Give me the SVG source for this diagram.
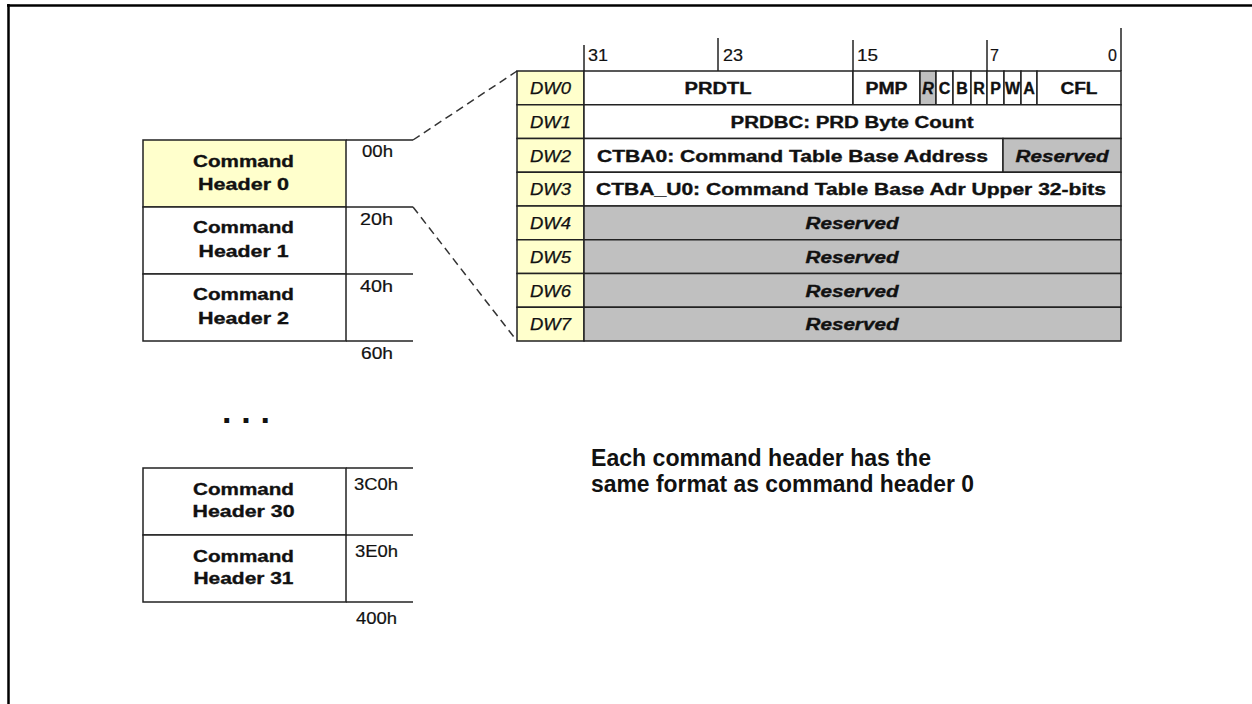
<svg xmlns="http://www.w3.org/2000/svg" width="1252" height="704" viewBox="0 0 1252 704">
<style>
.t{font-family:"Liberation Sans",Arial,sans-serif;fill:#111}
.hdr{font-weight:bold;font-size:17px;text-anchor:middle;stroke:#111;stroke-width:0.35}
.off{font-size:16px;text-anchor:middle;stroke:#111;stroke-width:0.2}
.bit{font-size:16px;stroke:#111;stroke-width:0.2}
.dw{font-style:italic;font-size:16px;text-anchor:middle;stroke:#111;stroke-width:0.25}
.fld{font-weight:bold;font-size:16px;text-anchor:middle;stroke:#111;stroke-width:0.35}
.rsv{font-weight:bold;font-style:italic;font-size:16px;text-anchor:middle;stroke:#111;stroke-width:0.35}
.note{font-weight:bold;font-size:23px}
.box{stroke:#222;stroke-width:1.5}
.yel{fill:#FFFFCC}
.wht{fill:#FFFFFF}
.gry{fill:#C0C0C0}
.ln{stroke:#222;stroke-width:1.5;fill:none}
.dash{stroke:#333;stroke-width:1.5;fill:none;stroke-dasharray:8 5}
</style>
<rect width="1252" height="704" fill="#FFFFFF"/>
<g id="frame">
<line x1="7" y1="5.5" x2="1252" y2="5.5" stroke="#000" stroke-width="2.5"/>
<line x1="8.5" y1="4" x2="8.5" y2="704" stroke="#000" stroke-width="2.5"/>
</g>

<g id="header0">
<rect class="box yel" x="143" y="140" width="203" height="67"/>
<text class="t hdr" x="243.5" y="167" textLength="101" lengthAdjust="spacingAndGlyphs">Command</text>
<text class="t hdr" x="243.5" y="190" textLength="91" lengthAdjust="spacingAndGlyphs">Header 0</text>
</g>
<g id="header1">
<rect class="box wht" x="143" y="207" width="203" height="67"/>
<text class="t hdr" x="243.5" y="233" textLength="101" lengthAdjust="spacingAndGlyphs">Command</text>
<text class="t hdr" x="243.5" y="257" textLength="90" lengthAdjust="spacingAndGlyphs">Header 1</text>
</g>
<g id="header2">
<rect class="box wht" x="143" y="274" width="203" height="67"/>
<text class="t hdr" x="243.5" y="300" textLength="101" lengthAdjust="spacingAndGlyphs">Command</text>
<text class="t hdr" x="243.5" y="324" textLength="91" lengthAdjust="spacingAndGlyphs">Header 2</text>
</g>
<g id="ellipsis">
<text class="t" x="222" y="423" textLength="48" lengthAdjust="spacing" style="font-weight:bold;font-size:34px">...</text>
</g>
<g id="header30">
<rect class="box wht" x="143" y="468" width="203" height="67"/>
<text class="t hdr" x="243.5" y="495" textLength="101" lengthAdjust="spacingAndGlyphs">Command</text>
<text class="t hdr" x="243.5" y="517" textLength="102" lengthAdjust="spacingAndGlyphs">Header 30</text>
</g>
<g id="header31">
<rect class="box wht" x="143" y="535" width="203" height="67"/>
<text class="t hdr" x="243.5" y="562" textLength="101" lengthAdjust="spacingAndGlyphs">Command</text>
<text class="t hdr" x="243.5" y="584" textLength="100" lengthAdjust="spacingAndGlyphs">Header 31</text>
</g>

<g id="offsets">
<text class="t off" x="377.5" y="157" textLength="31" lengthAdjust="spacingAndGlyphs">00h</text>
<text class="t off" x="376.5" y="225" textLength="33" lengthAdjust="spacingAndGlyphs">20h</text>
<text class="t off" x="376.5" y="292" textLength="33" lengthAdjust="spacingAndGlyphs">40h</text>
<text class="t off" x="377" y="359" textLength="32" lengthAdjust="spacingAndGlyphs">60h</text>
<text class="t off" x="376" y="490" textLength="44" lengthAdjust="spacingAndGlyphs">3C0h</text>
<text class="t off" x="376.5" y="557" textLength="43" lengthAdjust="spacingAndGlyphs">3E0h</text>
<text class="t off" x="376.5" y="624" textLength="41" lengthAdjust="spacingAndGlyphs">400h</text>
</g>

<g id="connectors">
<line class="ln" x1="346" y1="140" x2="413" y2="140"/>
<line class="ln" x1="346" y1="207" x2="413" y2="207"/>
<line class="ln" x1="346" y1="274" x2="413" y2="274"/>
<line class="ln" x1="346" y1="341" x2="413" y2="341"/>
<line class="ln" x1="346" y1="468" x2="413" y2="468"/>
<line class="ln" x1="346" y1="535" x2="413" y2="535"/>
<line class="ln" x1="346" y1="602" x2="413" y2="602"/>
<line class="dash" x1="413" y1="140" x2="517" y2="71"/>
<line class="dash" x1="413" y1="207" x2="517" y2="341"/>
</g>

<g id="bit-scale">
<line class="ln" x1="584" y1="45" x2="584" y2="71"/>
<line class="ln" x1="718" y1="38" x2="718" y2="71"/>
<line class="ln" x1="853" y1="40" x2="853" y2="71"/>
<line class="ln" x1="987" y1="40" x2="987" y2="71"/>
<line class="ln" x1="1121" y1="28" x2="1121" y2="71"/>
<text class="t bit" x="588" y="61" textLength="20" lengthAdjust="spacingAndGlyphs">31</text>
<text class="t bit" x="723" y="61" textLength="20" lengthAdjust="spacingAndGlyphs">23</text>
<text class="t bit" x="857" y="61" textLength="21" lengthAdjust="spacingAndGlyphs">15</text>
<text class="t bit" x="990" y="61">7</text>
<text class="t bit" x="1117" y="61" style="text-anchor:end">0</text>
</g>

<g id="dw0">
<rect class="box yel" x="517" y="71" width="67" height="33.75"/>
<text class="t dw" x="550.5" y="94" textLength="41" lengthAdjust="spacingAndGlyphs">DW0</text>
<rect class="box wht" x="584" y="71" width="269" height="33.75"/>
<text class="t fld" x="718" y="94" textLength="67" lengthAdjust="spacingAndGlyphs">PRDTL</text>
<rect class="box wht" x="853" y="71" width="67" height="33.75"/>
<text class="t fld" x="886.5" y="94" textLength="42" lengthAdjust="spacingAndGlyphs">PMP</text>
<rect class="box gry" x="920" y="71" width="16" height="33.75"/>
<rect class="box wht" x="936" y="71" width="17" height="33.75"/>
<rect class="box wht" x="953" y="71" width="18" height="33.75"/>
<rect class="box wht" x="971" y="71" width="16" height="33.75"/>
<rect class="box wht" x="987" y="71" width="17" height="33.75"/>
<rect class="box wht" x="1004" y="71" width="17" height="33.75"/>
<rect class="box wht" x="1021" y="71" width="16" height="33.75"/>
<rect class="box wht" x="1037" y="71" width="84" height="33.75"/>
<text class="t rsv" x="928" y="94">R</text>
<text class="t fld" x="944.5" y="94">C</text>
<text class="t fld" x="962" y="94">B</text>
<text class="t fld" x="979" y="94">R</text>
<text class="t fld" x="995.5" y="94">P</text>
<text class="t fld" x="1012.5" y="94">W</text>
<text class="t fld" x="1029" y="94">A</text>
<text class="t fld" x="1079" y="94" textLength="37" lengthAdjust="spacingAndGlyphs">CFL</text>
</g>
<g id="dw1">
<rect class="box yel" x="517" y="104.75" width="67" height="33.75"/>
<text class="t dw" x="550.5" y="127.75" textLength="41" lengthAdjust="spacingAndGlyphs">DW1</text>
<rect class="box wht" x="584" y="104.75" width="537" height="33.75"/>
<text class="t fld" x="852" y="127.75" textLength="243" lengthAdjust="spacingAndGlyphs">PRDBC: PRD Byte Count</text>
</g>
<g id="dw2">
<rect class="box yel" x="517" y="138.5" width="67" height="33.75"/>
<text class="t dw" x="550.5" y="161.5" textLength="41" lengthAdjust="spacingAndGlyphs">DW2</text>
<rect class="box wht" x="584" y="138.5" width="419" height="33.75"/>
<text class="t fld" x="792.5" y="161.5" textLength="391" lengthAdjust="spacingAndGlyphs">CTBA0: Command Table Base Address</text>
<rect class="box gry" x="1003" y="138.5" width="118" height="33.75"/>
<text class="t rsv" x="1062" y="161.5" textLength="93" lengthAdjust="spacingAndGlyphs">Reserved</text>
</g>
<g id="dw3">
<rect class="box yel" x="517" y="172.25" width="67" height="33.75"/>
<text class="t dw" x="550.5" y="195.25" textLength="41" lengthAdjust="spacingAndGlyphs">DW3</text>
<rect class="box wht" x="584" y="172.25" width="537" height="33.75"/>
<text class="t fld" x="851" y="195.25" textLength="510" lengthAdjust="spacingAndGlyphs">CTBA_U0: Command Table Base Adr Upper 32-bits</text>
</g>
<g id="dw4">
<rect class="box yel" x="517" y="206" width="67" height="33.75"/>
<text class="t dw" x="550.5" y="229" textLength="41" lengthAdjust="spacingAndGlyphs">DW4</text>
<rect class="box gry" x="584" y="206" width="537" height="33.75"/>
<text class="t rsv" x="852" y="229" textLength="93" lengthAdjust="spacingAndGlyphs">Reserved</text>
</g>
<g id="dw5">
<rect class="box yel" x="517" y="239.75" width="67" height="33.75"/>
<text class="t dw" x="550.5" y="262.75" textLength="41" lengthAdjust="spacingAndGlyphs">DW5</text>
<rect class="box gry" x="584" y="239.75" width="537" height="33.75"/>
<text class="t rsv" x="852" y="262.75" textLength="93" lengthAdjust="spacingAndGlyphs">Reserved</text>
</g>
<g id="dw6">
<rect class="box yel" x="517" y="273.5" width="67" height="33.75"/>
<text class="t dw" x="550.5" y="296.5" textLength="41" lengthAdjust="spacingAndGlyphs">DW6</text>
<rect class="box gry" x="584" y="273.5" width="537" height="33.75"/>
<text class="t rsv" x="852" y="296.5" textLength="93" lengthAdjust="spacingAndGlyphs">Reserved</text>
</g>
<g id="dw7">
<rect class="box yel" x="517" y="307.25" width="67" height="33.75"/>
<text class="t dw" x="550.5" y="330.25" textLength="41" lengthAdjust="spacingAndGlyphs">DW7</text>
<rect class="box gry" x="584" y="307.25" width="537" height="33.75"/>
<text class="t rsv" x="852" y="330.25" textLength="93" lengthAdjust="spacingAndGlyphs">Reserved</text>
</g>

<g id="note">
<text class="t note" x="591" y="466" textLength="340" lengthAdjust="spacingAndGlyphs">Each command header has the</text>
<text class="t note" x="591" y="492" textLength="383" lengthAdjust="spacingAndGlyphs">same format as command header 0</text>
</g>
</svg>
